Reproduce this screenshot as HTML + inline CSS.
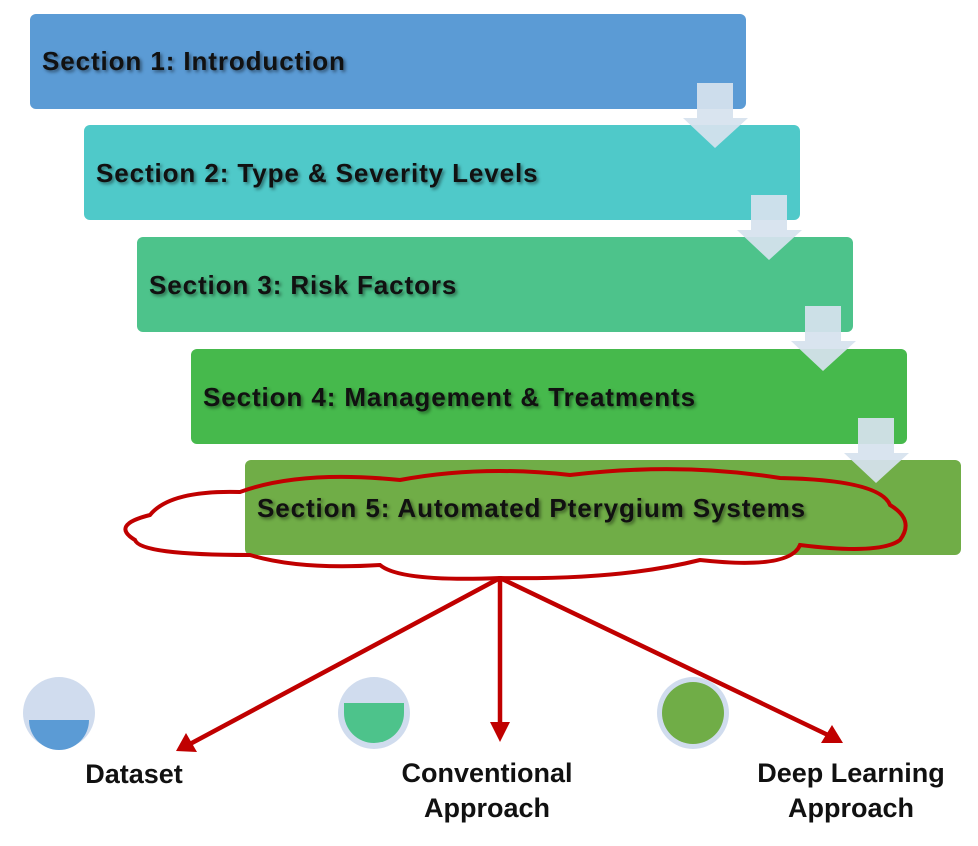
<!DOCTYPE html>
<html><head><style>
body{margin:0;width:978px;height:846px;background:#fff;position:relative;overflow:hidden;font-family:"Liberation Sans",sans-serif}
.b{position:absolute;width:716px;height:95px;border-radius:6px;}
.t{position:absolute;font-weight:bold;font-size:26px;letter-spacing:0.9px;color:#111;text-shadow:2px 2px 3px rgba(0,0,0,.45);white-space:nowrap}
.l{position:absolute;font-weight:bold;font-size:27px;color:#111;text-align:center;line-height:35px}
svg{position:absolute;left:0;top:0}
</style></head><body>
<div class="b" style="left:30px;top:14px;background:#5b9bd5"></div>
<div class="b" style="left:84px;top:125px;background:#4fc9c9"></div>
<div class="b" style="left:137px;top:237px;background:#4dc38b"></div>
<div class="b" style="left:191px;top:349px;background:#46b94c"></div>
<div class="b" style="left:245px;top:460px;background:#70ad47"></div>
<svg width="978" height="846">
<g fill="#d6e2ee" fill-opacity="0.93">
<polygon points="697,83 733,83 733,118 748,118 715,148 683,118 697,118"/>
<polygon points="751,195 787,195 787,230 802,230 769,260 737,230 751,230"/>
<polygon points="805,306 841,306 841,341 856,341 823,371 791,341 805,341"/>
<polygon points="858,418 894,418 894,453 909,453 876,483 844,453 858,453"/>
</g>
<path d="M150,515 Q170,490 240,492 Q300,470 400,480 Q480,465 570,475 Q680,462 780,478 Q880,480 890,505 Q915,520 900,540 Q880,555 800,545 Q790,570 700,560 Q620,580 500,578 Q400,582 380,565 Q300,570 250,555 Q140,555 135,540 Q110,525 150,515 Z" fill="none" stroke="#c00000" stroke-width="4"/>
<g stroke="#c00000" stroke-width="4.5" fill="#c00000">
<line x1="500" y1="578" x2="190" y2="744"/>
<line x1="500" y1="578" x2="500" y2="728"/>
<line x1="500" y1="578" x2="830" y2="736"/>
</g>
<g fill="#c00000">
<polygon points="176,751 186,733 197,752"/>
<polygon points="490,722 510,722 500,742"/>
<polygon points="843,743 821,743 832,725"/>
</g>
<circle cx="59" cy="713" r="36" fill="#d0dcee"/>
<path d="M29,720 L89,720 A30,30 0 0 1 29,720 Z" fill="#5b9bd5"/>
<circle cx="374" cy="713" r="36" fill="#d0dcee"/>
<path d="M344,703 L404,703 L404,713 A30,30 0 0 1 344,713 Z" fill="#4dc38b"/>
<circle cx="693" cy="713" r="36" fill="#d0dcee"/>
<circle cx="693" cy="713" r="31" fill="#70ad47"/>
</svg>
<div class="t" style="left:42px;top:46px">Section 1: Introduction</div>
<div class="t" style="left:96px;top:158px">Section 2: Type &amp; Severity Levels</div>
<div class="t" style="left:149px;top:270px">Section 3: Risk Factors</div>
<div class="t" style="left:203px;top:382px">Section 4: Management &amp; Treatments</div>
<div class="t" style="left:257px;top:493px">Section 5: Automated Pterygium Systems</div>
<div class="l" style="left:59px;top:757px;width:150px">Dataset</div>
<div class="l" style="left:377px;top:756px;width:220px">Conventional<br>Approach</div>
<div class="l" style="left:741px;top:756px;width:220px">Deep Learning<br>Approach</div>
</body></html>
